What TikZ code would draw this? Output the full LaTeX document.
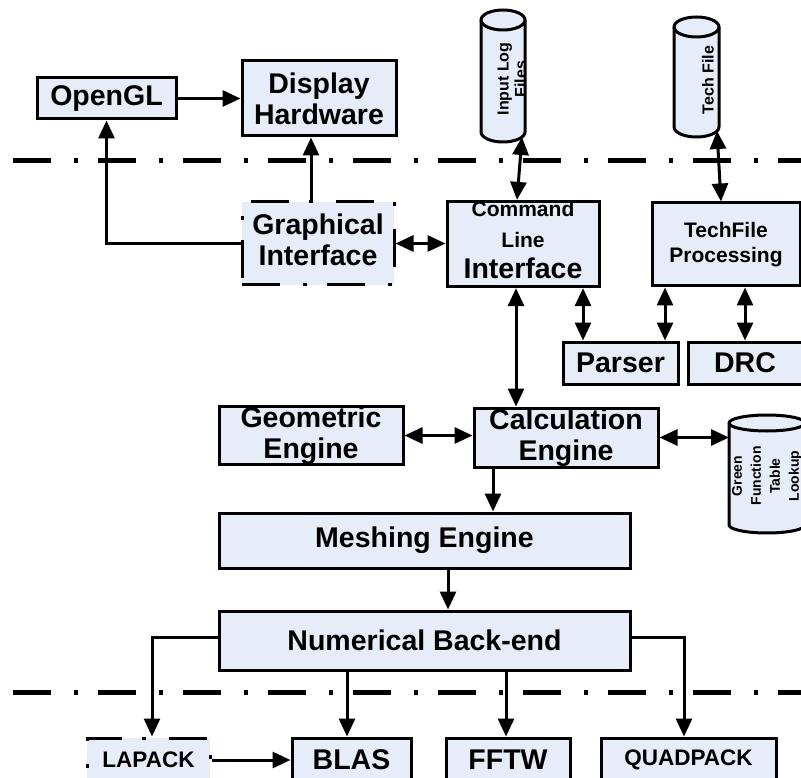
\documentclass[tikz,border=0pt]{standalone}
\usepackage{fontspec}
\setmainfont{Liberation Sans}
\usetikzlibrary{arrows.meta}
\definecolor{boxfill}{HTML}{E6ECF8}

\begin{document}
\begin{tikzpicture}[
    x=1pt, y=1pt,
    >={Triangle[length=18pt,width=16pt]},
    line width=3pt,
    every node/.style={font=\bfseries},
    block/.style={
        rectangle,
        draw,
        fill=boxfill,
        inner sep=0pt,
        align=center,
        font=\bfseries\fontsize{28.5}{31}\selectfont
    },
    smallblock/.style={
        block,
        font=\bfseries\fontsize{21}{25}\selectfont
    },
    dashdot/.style={dash pattern=on 38pt off 23pt on 4pt off 20pt},
    drum/.style={
        rectangle,
        inner sep=0pt,
        outer sep=0pt
    },
    drumtext/.style={
        rotate=90,
        align=center,
        font=\bfseries\fontsize{16}{17.5}\selectfont
    }
]
    \useasboundingbox (0,0) rectangle (801,-778);
    \clip (0,0) rectangle (801,-778);

    % === DISPLAY SIDE ===
    \node[block, minimum width=139pt, minimum height=41pt] (opengl) at (106.5,-98.5) {OpenGL};
    \node[block, minimum width=154pt, minimum height=75pt] (display) at (319,-98.5) {Display\\Hardware};

    % === DATA STORES (body only, caps drawn below) ===
    \node[drum, minimum width=44pt, minimum height=112pt] (inlog) at (503,-76) {};
    \node[drum, minimum width=45pt, minimum height=100pt] (techfile) at (696.5,-77) {};
    \node[drum, minimum width=76pt, minimum height=102pt] (green) at (767,-474) {};

    \foreach \n/\rx/\ry in {inlog/22/10, techfile/22.5/10, green/38/8} {
        \filldraw[fill=boxfill] (\n.north west) -- (\n.south west)
            arc[start angle=180, end angle=360, x radius=\rx, y radius=\ry]
            -- (\n.north east)
            arc[start angle=0, end angle=180, x radius=\rx, y radius=\ry] -- cycle;
        \draw (\n.north west) arc[start angle=180, end angle=360, x radius=\rx, y radius=\ry];
    }
    \node[drumtext] (inlogtext) at (512,-79) {Input Log\\Files};
    \node[drumtext] (techtext) at (708,-80) {Tech File};
    \node[drumtext, font=\bfseries\fontsize{14}{19}\selectfont] (greentext) at (767,-476) {Green\\Function\\Table\\Lookup};

    % separators
    \draw[line width=5pt, dashdot] (13,-161) -- (801,-161);
    \draw[line width=5pt, dashdot] (13,-692) -- (801,-692);

    % === INTERFACES ===
    \node[block, dashdot, minimum width=152pt, minimum height=83pt] (gui) at (318,-243.5) {Graphical\\Interface\rule[-7pt]{0pt}{7pt}};
    \node[block, minimum width=152pt, minimum height=84pt] (cli) at (523,-244)
        {\fontsize{21}{26}\selectfont Command\\\fontsize{21}{27}\selectfont Line\\\fontsize{28.5}{28}\selectfont Interface\rule[-8pt]{0pt}{8pt}};
    \node[smallblock, minimum width=148pt, minimum height=83pt] (techproc) at (726,-244.5) {TechFile\\Processing};
    \node[block, minimum width=115pt, minimum height=42pt] (parser) at (620.5,-363) {Parser};
    \node[block, minimum width=114pt, minimum height=42pt] (drc) at (745,-363) {DRC};

    % === ENGINES ===
    \node[block, minimum width=184pt, minimum height=55pt] (geom) at (311,-435.5) {Geometric\\Engine};
    \node[block, minimum width=184pt, minimum height=59pt] (calc) at (566,-437.5) {Calculation\\Engine};
    \node[block, minimum width=411pt, minimum height=55pt] (mesh) at (424.5,-540.5) {Meshing Engine};
    \node[block, minimum width=411pt, minimum height=59pt] (numer) at (424.5,-640.5) {Numerical Back-end};

    % === LIBRARIES ===
    \node[block, dashdot, font=\bfseries\fontsize{22.5}{26}\selectfont, minimum width=123pt, minimum height=44pt] (lapack) at (148.5,-760) {LAPACK};
    \node[block, minimum width=119pt, minimum height=44pt] (blas) at (351.5,-760) {BLAS};
    \node[block, minimum width=124pt, minimum height=44pt] (fftw) at (508,-760) {FFTW};
    \node[block, font=\bfseries\fontsize{22.5}{26}\selectfont, minimum width=175pt, minimum height=44pt] (quad) at (688.5,-760) {QUADPACK};

    % top connections
    \draw[->] (opengl) -- (display);
    \draw[->] (gui.west) -| (opengl.south);
    \draw[->] ([xshift=-7pt]gui.north) -- ([xshift=-7pt]gui.north |- display.south);
    \draw[<->] (gui.east) -- (gui.east -| cli.west);
    \draw[<->] ([xshift=19pt,yshift=-5pt]inlog.south) -- ([xshift=-6pt]cli.north);
    \draw[<->] ([xshift=20.5pt,yshift=-4pt]techfile.south) -- ([xshift=-5pt]techproc.north);

    % command line and tech file links
    \draw[<->] ([xshift=-7pt]cli.south) -- ([xshift=-7pt]cli.south |- calc.north);
    \draw[<->] ([xshift=60pt]cli.south) -- ([xshift=60pt]cli.south |- parser.north);
    \draw[<->] ([xshift=-61pt]techproc.south) -- ([xshift=-61pt]techproc.south |- parser.north);
    \draw[<->] (drc.north |- techproc.south) -- (drc.north);

    % engine links
    \draw[<->] (geom.east) -- (geom.east -| calc.west);
    \draw[<->] (calc.east) -- (calc.east -| green.west);
    \draw[->] ([xshift=-73pt]calc.south) -- ([xshift=-73pt]calc.south |- mesh.north);
    \draw[->] ([xshift=23.5pt]mesh.south) -- ([xshift=23.5pt]mesh.south |- numer.north);

    % back-end to libraries
    \draw[->] ([yshift=3.5pt]numer.west) -| ([xshift=3.5pt]lapack.north);
    \draw[->] ([xshift=-4.5pt]blas.north |- numer.south) -- ([xshift=-4.5pt]blas.north);
    \draw[->] ([xshift=-2pt]fftw.north |- numer.south) -- ([xshift=-2pt]fftw.north);
    \draw[->] ([yshift=3.5pt]numer.east) -| ([xshift=-4.5pt]quad.north);
    \draw[->] (lapack.east) -- (blas.west);
\end{tikzpicture}
\end{document}
